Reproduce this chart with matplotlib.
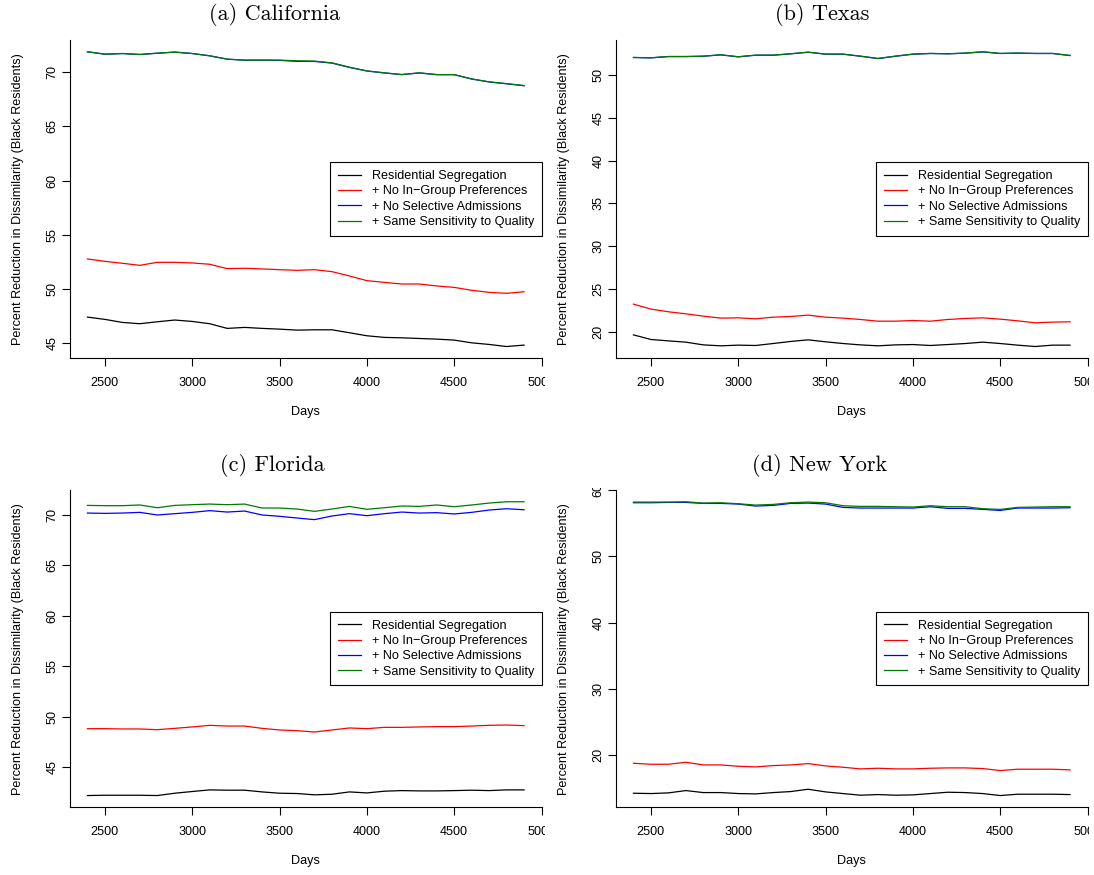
import numpy as np
import matplotlib
matplotlib.use("Agg")
import matplotlib.pyplot as plt
from matplotlib.transforms import Bbox

plt.rcParams['font.family'] = ['Liberation Sans', 'DejaVu Sans']

# days on the x axis
days = list(range(2400, 5000, 100))

series_names = ["Residential Segregation", "+ No In\u2212Group Preferences",
                "+ No Selective Admissions", "+ Same Sensitivity to Quality"]
series_colors = ["black", "red", "blue", "#007a00"]

# (a) California
ca_resid = [47.43, 47.22, 46.94, 46.82, 47.00, 47.16, 47.03, 46.82, 46.39, 46.48, 46.39, 46.32, 46.23,
            46.26, 46.26, 45.99, 45.71, 45.56, 45.52, 45.46, 45.40, 45.31, 45.06, 44.91, 44.72, 44.85]
ca_ingroup = [52.79, 52.57, 52.39, 52.20, 52.48, 52.48, 52.42, 52.30, 51.90, 51.93, 51.87, 51.80, 51.74,
              51.80, 51.62, 51.22, 50.79, 50.63, 50.48, 50.48, 50.30, 50.17, 49.90, 49.71, 49.62, 49.77]
ca_select = [71.88, 71.66, 71.72, 71.63, 71.75, 71.85, 71.72, 71.51, 71.20, 71.11, 71.11, 71.09, 71.00,
             70.99, 70.84, 70.44, 70.11, 69.93, 69.78, 69.93, 69.77, 69.77, 69.37, 69.10, 68.93, 68.75]
ca_quality = [71.88, 71.66, 71.72, 71.63, 71.75, 71.85, 71.72, 71.51, 71.20, 71.11, 71.11, 71.11, 71.05,
              71.02, 70.86, 70.46, 70.12, 69.94, 69.78, 69.94, 69.78, 69.78, 69.38, 69.11, 68.95, 68.77]

# (b) Texas
tx_resid = [19.64, 19.10, 18.94, 18.79, 18.47, 18.36, 18.44, 18.40, 18.63, 18.87, 19.06, 18.83, 18.63,
            18.47, 18.36, 18.47, 18.51, 18.40, 18.51, 18.63, 18.79, 18.63, 18.44, 18.28, 18.44, 18.44]
tx_ingroup = [23.23, 22.65, 22.34, 22.10, 21.83, 21.60, 21.63, 21.52, 21.71, 21.79, 21.95, 21.71, 21.60,
              21.44, 21.24, 21.24, 21.32, 21.24, 21.44, 21.56, 21.63, 21.48, 21.28, 21.05, 21.13, 21.17]
tx_select = [52.06, 52.02, 52.17, 52.17, 52.21, 52.37, 52.14, 52.33, 52.33, 52.49, 52.68, 52.45, 52.45,
             52.21, 51.94, 52.21, 52.45, 52.53, 52.49, 52.57, 52.72, 52.53, 52.57, 52.53, 52.53, 52.29]
tx_quality = [52.07, 52.03, 52.18, 52.18, 52.22, 52.38, 52.15, 52.34, 52.34, 52.50, 52.69, 52.46, 52.46,
              52.22, 51.95, 52.22, 52.46, 52.54, 52.50, 52.58, 52.73, 52.54, 52.58, 52.54, 52.54, 52.30]

# (c) Florida
fl_resid = [42.20, 42.23, 42.23, 42.23, 42.20, 42.43, 42.60, 42.76, 42.73, 42.73, 42.56, 42.43, 42.40,
            42.27, 42.33, 42.56, 42.46, 42.63, 42.69, 42.66, 42.66, 42.69, 42.73, 42.69, 42.76, 42.76]
fl_ingroup = [48.82, 48.82, 48.79, 48.79, 48.72, 48.85, 48.99, 49.15, 49.08, 49.08, 48.85, 48.69, 48.62,
              48.49, 48.69, 48.89, 48.82, 48.95, 48.95, 48.99, 49.02, 49.02, 49.08, 49.15, 49.18, 49.12]
fl_select = [70.16, 70.13, 70.16, 70.23, 69.97, 70.10, 70.23, 70.40, 70.26, 70.36, 69.97, 69.84, 69.67,
             69.51, 69.87, 70.10, 69.90, 70.10, 70.26, 70.16, 70.20, 70.07, 70.23, 70.46, 70.59, 70.49]
fl_quality = [70.92, 70.89, 70.89, 70.96, 70.69, 70.92, 70.99, 71.05, 70.99, 71.05, 70.66, 70.66, 70.56,
              70.33, 70.56, 70.82, 70.53, 70.69, 70.86, 70.82, 70.96, 70.79, 70.96, 71.15, 71.28, 71.28]

# (d) New York
ny_resid = [14.27, 14.22, 14.32, 14.67, 14.37, 14.37, 14.22, 14.17, 14.37, 14.52, 14.87, 14.47, 14.22,
            13.97, 14.07, 13.97, 14.02, 14.22, 14.42, 14.37, 14.22, 13.92, 14.12, 14.12, 14.12, 14.07]
ny_ingroup = [18.79, 18.64, 18.64, 18.94, 18.54, 18.54, 18.34, 18.24, 18.44, 18.54, 18.74, 18.39, 18.19,
              17.94, 18.04, 17.94, 17.94, 18.04, 18.09, 18.09, 17.99, 17.69, 17.89, 17.89, 17.89, 17.79]
ny_select = [58.09, 58.09, 58.14, 58.14, 57.99, 57.99, 57.89, 57.59, 57.69, 57.99, 58.04, 57.89, 57.39,
             57.29, 57.29, 57.29, 57.29, 57.49, 57.24, 57.24, 57.09, 56.93, 57.29, 57.29, 57.29, 57.34]
ny_quality = [58.19, 58.19, 58.19, 58.24, 58.04, 58.09, 57.94, 57.74, 57.84, 58.09, 58.19, 58.09, 57.64,
              57.54, 57.54, 57.49, 57.44, 57.64, 57.49, 57.49, 57.19, 57.09, 57.39, 57.44, 57.49, 57.49]

panel_titles = ["(a) California", "(b) Texas", "(c) Florida", "(d) New York"]
panel_data = [[ca_resid, ca_ingroup, ca_select, ca_quality],
              [tx_resid, tx_ingroup, tx_select, tx_quality],
              [fl_resid, fl_ingroup, fl_select, fl_quality],
              [ny_resid, ny_ingroup, ny_select, ny_quality]]
panel_yticks = [[45, 50, 55, 60, 65, 70],
                [20, 25, 30, 35, 40, 45, 50],
                [45, 50, 55, 60, 65, 70],
                [20, 30, 40, 50, 60]]
xticks = [2500, 3000, 3500, 4000, 4500, 5000]

W, H = 1094, 875
fig = plt.figure(figsize=(W / 100, H / 100), dpi=100)

# panel layout in pixels
ax_left = [70, 616, 70, 616]
ax_top = [40, 40, 490, 490]
ax_bot = [358.3, 358.3, 807.3, 807.3]
ax_w = 471.5
ylab_x = [24, 570, 24, 570]
days_y = [406, 406, 855, 855]
title_x = [275, 822, 272, 820]
title_y = [15, 15, 465, 465]
clip_px = [(0, 0, 545, 432), (548, 0, 1089, 432), (0, 488, 545, 875), (548, 488, 1089, 875)]

fs = 9.1
for i in range(4):
    ax_h = ax_bot[i] - ax_top[i]
    ax = fig.add_axes([ax_left[i] / W, 1 - ax_bot[i] / H, ax_w / W, ax_h / H])
    for vals, name, col in zip(panel_data[i], series_names, series_colors):
        ax.plot(days, vals, color=col, lw=0.9, label=name)

    # R style 4% padding around the data range
    allv = np.concatenate([np.array(v) for v in panel_data[i]])
    lo, hi = allv.min(), allv.max()
    ax.set_ylim(lo - 0.04 * (hi - lo), hi + 0.04 * (hi - lo))
    ax.set_xlim(days[0] - 0.04 * (days[-1] - days[0]), days[-1] + 0.04 * (days[-1] - days[0]))

    ax.spines['top'].set_visible(False)
    ax.spines['right'].set_visible(False)
    for s in ['left', 'bottom']:
        ax.spines[s].set_linewidth(0.8)
    ax.set_xticks(xticks)
    ax.set_yticks(panel_yticks[i])
    ax.tick_params(axis='both', direction='out', length=5.5, width=0.8, labelsize=fs)
    ax.tick_params(axis='x', pad=8)
    ax.tick_params(axis='y', pad=3)
    for lab in ax.get_yticklabels():
        lab.set_rotation(90)
        lab.set_va('center')

    ax.set_xlabel("Days", fontsize=fs)
    ax.xaxis.set_label_coords(0.5, -(days_y[i] - ax_bot[i]) / ax_h)
    ax.set_ylabel("Percent Reduction in Dissimilarity (Black Residents)", fontsize=fs)
    ax.yaxis.set_label_coords((ylab_x[i] - ax_left[i]) / ax_w, 0.5)

    leg = ax.legend(loc='center right', bbox_to_anchor=(1.0, 0.5), borderaxespad=0, fontsize=fs,
                    frameon=True, fancybox=False, framealpha=1, edgecolor='black',
                    handlelength=1.8, handletextpad=0.85, borderpad=0.6, labelspacing=0.27)
    leg.get_frame().set_linewidth(0.8)

    # panels were cropped images: clip the tick labels to the panel region
    x0, y0, x1, y1 = clip_px[i]
    box = Bbox.from_extents(x0, H - y1, x1, H - y0)
    for lab in ax.get_xticklabels() + ax.get_yticklabels():
        lab.set_clip_box(box)
        lab.set_clip_on(True)

    fig.text(title_x[i] / W, 1 - title_y[i] / H, panel_titles[i], family='cmr10', fontsize=16,
             ha='center', va='center')

fig.savefig("out.png", dpi=100)
